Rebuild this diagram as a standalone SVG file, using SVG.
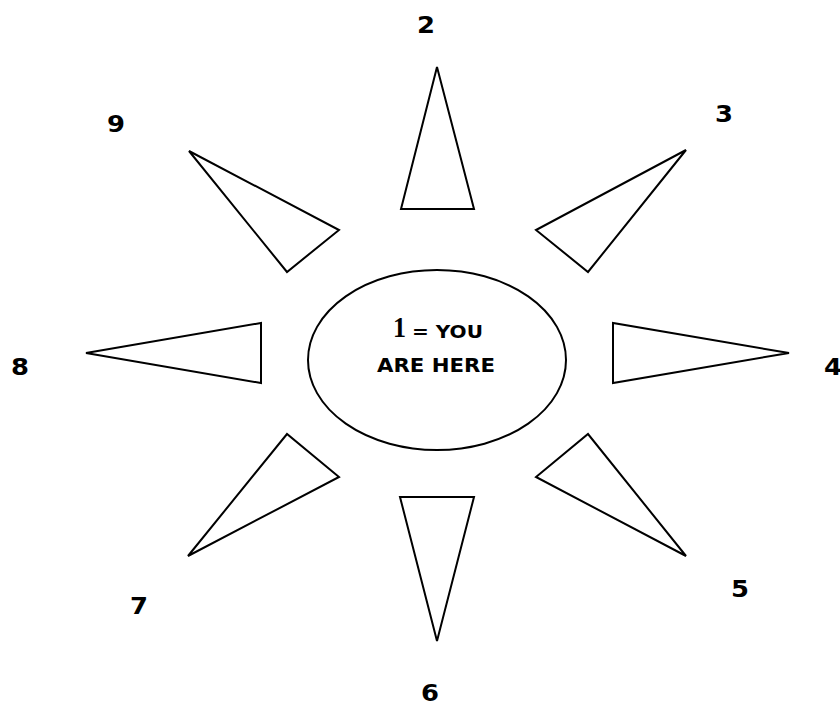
<svg xmlns="http://www.w3.org/2000/svg" width="840" height="705" viewBox="0 0 840 705">
<style>
.ray{fill:#fff;stroke:#000;stroke-width:2;stroke-linejoin:miter}
.num{font-family:"DejaVu Sans",sans-serif;font-weight:bold;font-size:23px;fill:#000}
.lbl{font-family:"DejaVu Sans",sans-serif;font-weight:bold;fill:#000}
</style>
<rect width="840" height="705" fill="#fff"/>
<g id="center">
<ellipse cx="437" cy="360" rx="129" ry="90" fill="#fff" stroke="#000" stroke-width="2"/>
<text x="393" y="337" font-family="Liberation Serif, serif" font-weight="bold" font-size="29" textLength="13" lengthAdjust="spacingAndGlyphs">1</text>
<text class="lbl" x="412" y="338" font-size="18" textLength="71" lengthAdjust="spacingAndGlyphs">= YOU</text>
<text class="lbl" x="377" y="372" font-size="19" textLength="118" lengthAdjust="spacingAndGlyphs">ARE HERE</text>
</g>
<g id="connectors">
<polygon id="ray2" class="ray" points="437,67 474,209 401,209"/>
<polygon id="ray3" class="ray" points="686,150 588,272 536,230"/>
<polygon id="ray4" class="ray" points="789,353 613,383 613,323"/>
<polygon id="ray5" class="ray" points="686,556 536,477 588,434"/>
<polygon id="ray6" class="ray" points="437,641 400,497 474,497"/>
<polygon id="ray7" class="ray" points="188,556 287,434 339,477"/>
<polygon id="ray8" class="ray" points="86,353 261,323 261,383"/>
<polygon id="ray9" class="ray" points="189,151 339,230 287,272"/>
</g>
<g id="n2"><text class="num" x="417" y="33" textLength="18" lengthAdjust="spacingAndGlyphs">2</text></g>
<g id="n3"><text class="num" x="715" y="122" textLength="18" lengthAdjust="spacingAndGlyphs">3</text></g>
<g id="n4"><text class="num" x="824" y="375" textLength="18" lengthAdjust="spacingAndGlyphs">4</text></g>
<g id="n5"><text class="num" x="731" y="597" textLength="18" lengthAdjust="spacingAndGlyphs">5</text></g>
<g id="n6"><text class="num" x="421" y="701" textLength="18" lengthAdjust="spacingAndGlyphs">6</text></g>
<g id="n7"><text class="num" x="130" y="614" textLength="18" lengthAdjust="spacingAndGlyphs">7</text></g>
<g id="n8"><text class="num" x="11" y="375" textLength="18" lengthAdjust="spacingAndGlyphs">8</text></g>
<g id="n9"><text class="num" x="107" y="132" textLength="18" lengthAdjust="spacingAndGlyphs">9</text></g>
</svg>
